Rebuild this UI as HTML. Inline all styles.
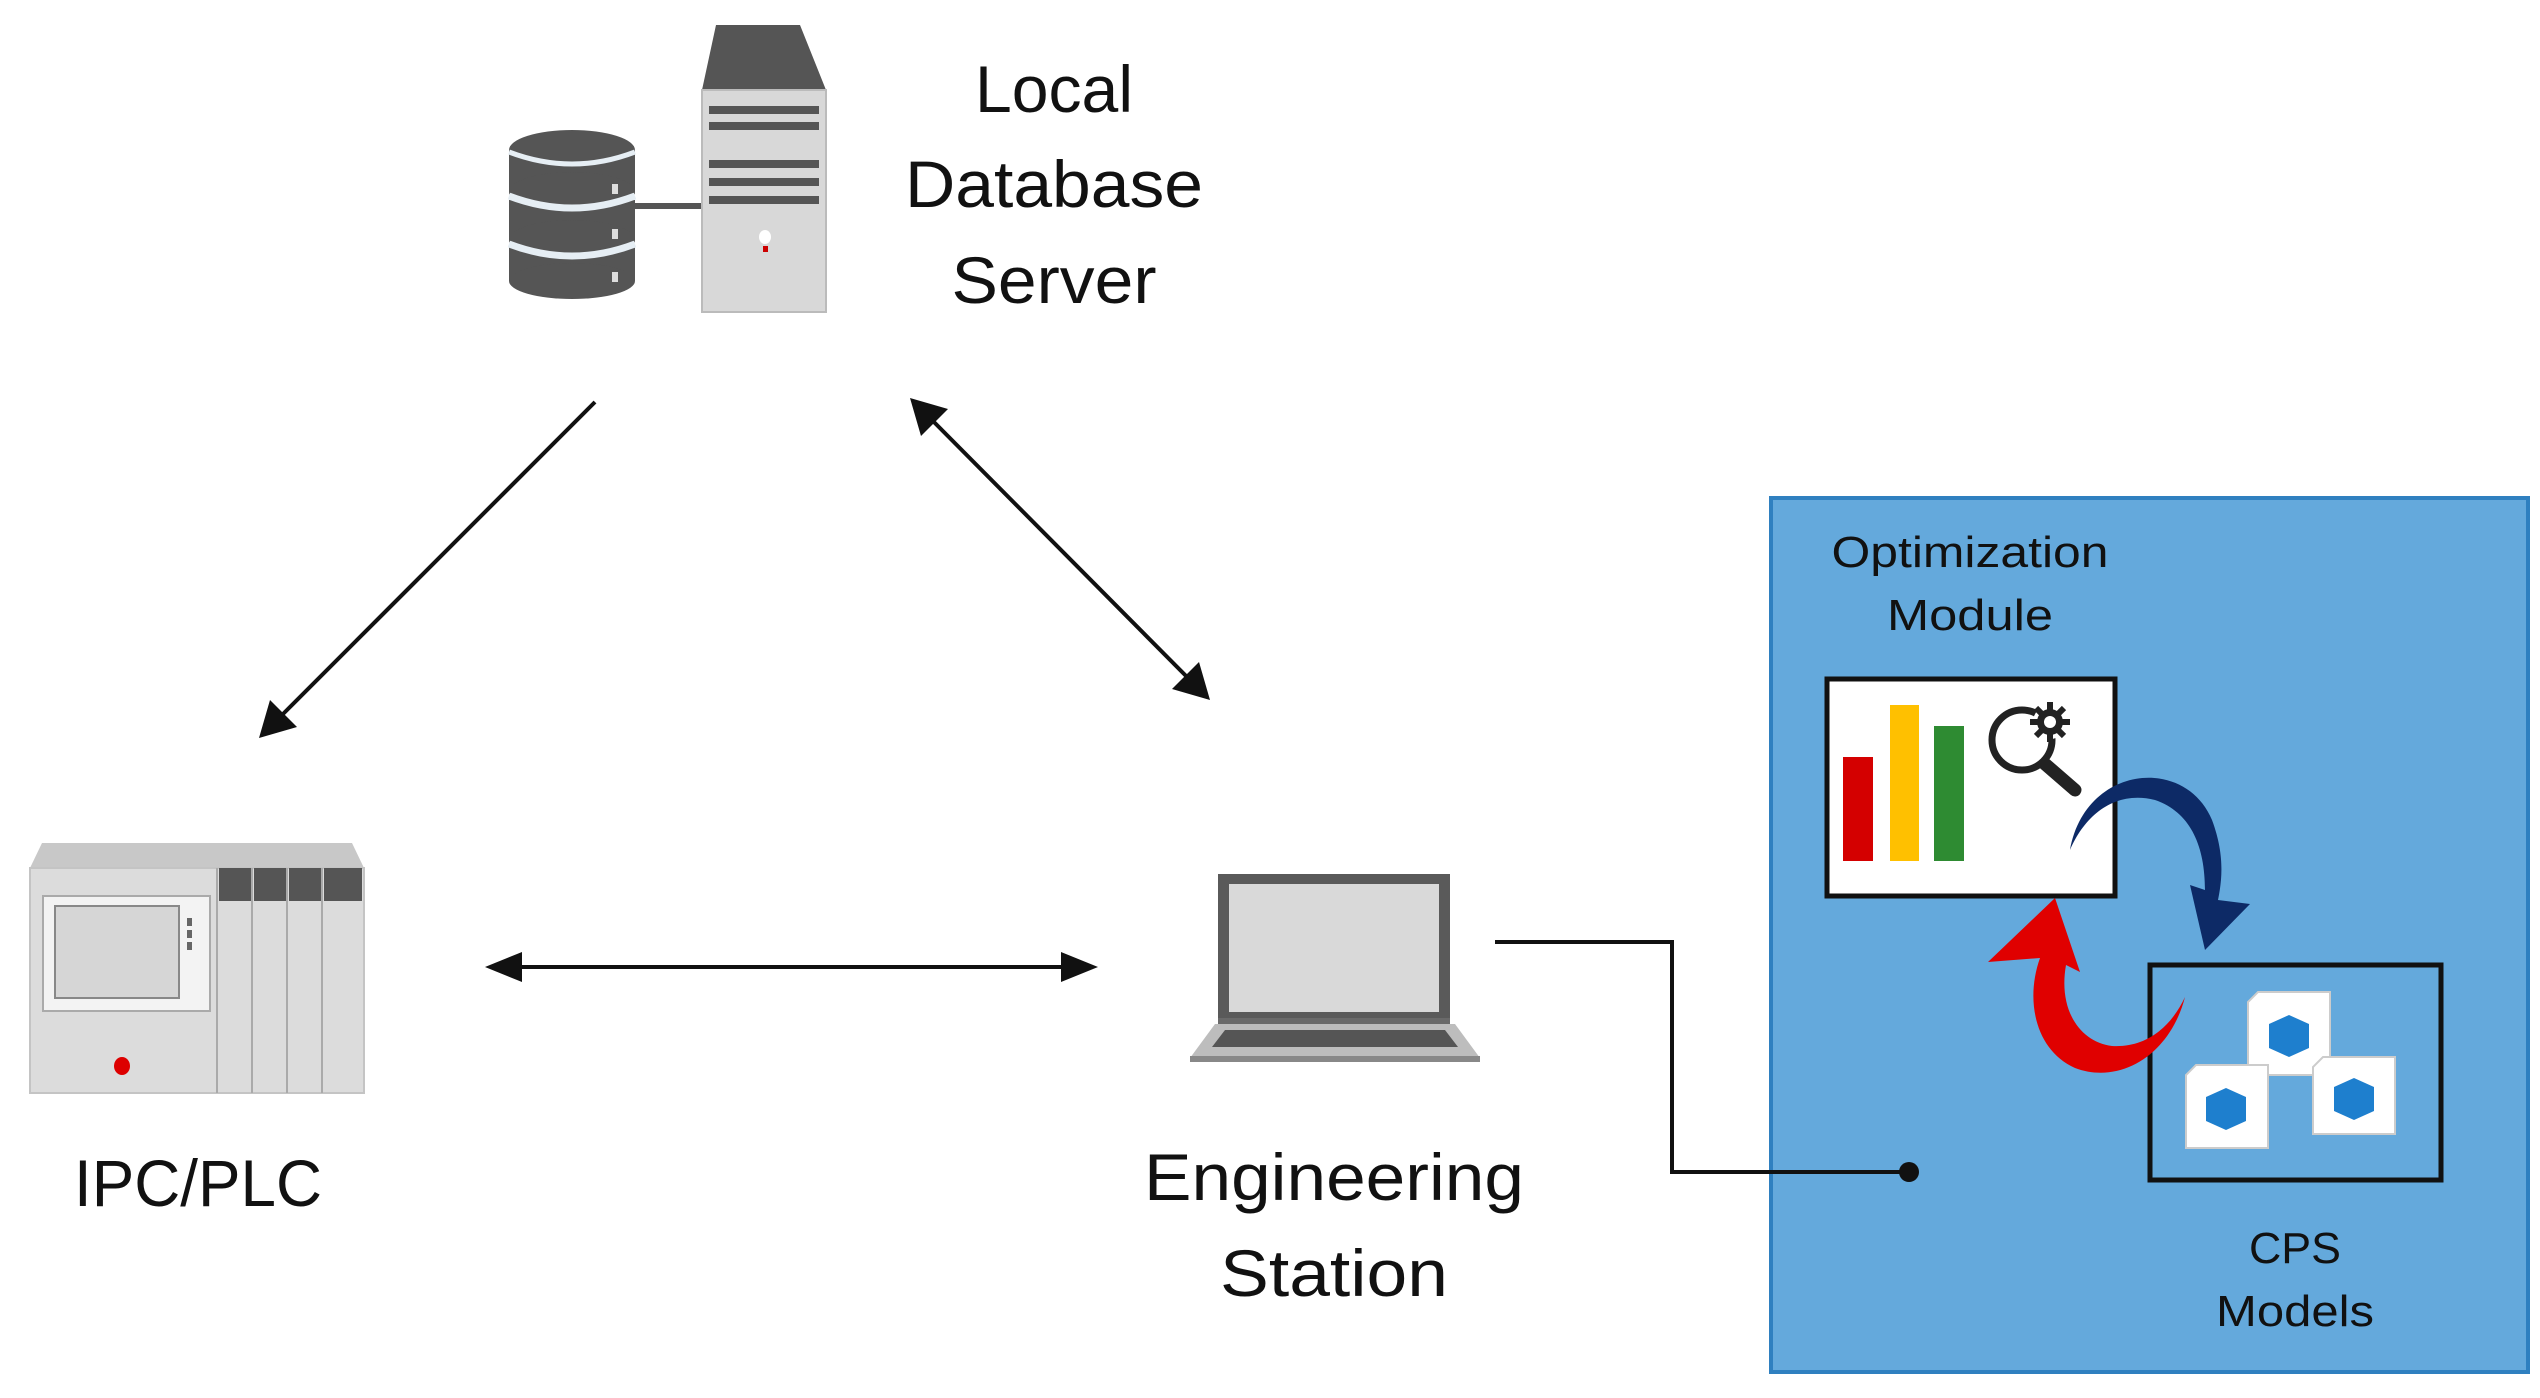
<!DOCTYPE html>
<html><head><meta charset="utf-8"><style>
html,body{margin:0;padding:0;background:#fff;}
svg{display:block;}
text{font-family:"Liberation Sans",sans-serif;fill:#111;}
</style></head><body>
<svg width="2540" height="1398" viewBox="0 0 2540 1398" xmlns="http://www.w3.org/2000/svg">
<!-- Database cylinder -->
<g fill="#555">
<ellipse cx="572" cy="150" rx="63" ry="20"/>
<rect x="509" y="150" width="126" height="42"/>
<ellipse cx="572" cy="192" rx="63" ry="20"/>
<rect x="509" y="200" width="126" height="40" />
<ellipse cx="572" cy="240" rx="63" ry="20"/>
<rect x="509" y="247" width="126" height="34"/>
<ellipse cx="572" cy="281" rx="63" ry="18"/>
</g>
<path d="M509 196 Q572 220 635 196" stroke="#e6eef4" stroke-width="7" fill="none"/>
<path d="M509 244 Q572 268 635 244" stroke="#e6eef4" stroke-width="7" fill="none"/>
<path d="M509 152 Q572 176 635 152" stroke="#e6eef4" stroke-width="5" fill="none"/>
<rect x="612" y="184" width="6" height="10" fill="#ddd"/>
<rect x="612" y="229" width="6" height="10" fill="#ddd"/>
<rect x="612" y="272" width="6" height="10" fill="#ddd"/>
<line x1="630" y1="206" x2="702" y2="206" stroke="#555" stroke-width="6"/>
<!-- Server tower -->
<polygon points="716,25 800,25 826,90 702,90" fill="#555"/>
<rect x="702" y="90" width="124" height="222" fill="#d8d8d8"/>
<rect x="702" y="90" width="124" height="222" fill="none" stroke="#bbb" stroke-width="2"/>
<g fill="#555">
<rect x="709" y="106" width="110" height="8"/>
<rect x="709" y="122" width="110" height="8"/>
<rect x="709" y="160" width="110" height="8"/>
<rect x="709" y="178" width="110" height="8"/>
<rect x="709" y="196" width="110" height="8"/>
</g>
<ellipse cx="765" cy="237" rx="6" ry="7" fill="#fff"/>
<rect x="763" y="246" width="5" height="6" fill="#c00"/>
<text x="1054" y="112" font-size="66" text-anchor="middle" textLength="158" lengthAdjust="spacingAndGlyphs">Local</text>
<text x="1054" y="207" font-size="66" text-anchor="middle" textLength="298" lengthAdjust="spacingAndGlyphs">Database</text>
<text x="1054" y="303" font-size="66" text-anchor="middle" textLength="205" lengthAdjust="spacingAndGlyphs">Server</text>
<!-- Arrows -->
<g stroke="#111" stroke-width="4" fill="#111">
<line x1="595" y1="402" x2="275" y2="722"/>
<polygon points="259,738 270,700 297,727" stroke="none"/>
<line x1="925" y1="413" x2="1195" y2="685"/>
<polygon points="910,398 948,409 921,436" stroke="none"/>
<polygon points="1210,700 1172,689 1199,662" stroke="none"/>
<line x1="505" y1="967" x2="1078" y2="967"/>
<polygon points="485,967 522,952 522,982" stroke="none"/>
<polygon points="1098,967 1061,952 1061,982" stroke="none"/>
</g>
<!-- PLC -->
<polygon points="42,843 352,843 364,868 30,868" fill="#c8c8c8"/>
<rect x="30" y="868" width="334" height="225" fill="#dcdcdc"/>
<rect x="30" y="868" width="334" height="225" fill="none" stroke="#c4c4c4" stroke-width="2"/>
<g fill="#555"><rect x="219" y="868" width="32" height="33"/><rect x="254" y="868" width="32" height="33"/><rect x="289" y="868" width="32" height="33"/><rect x="324" y="868" width="38" height="33"/></g>
<g stroke="#aaa" stroke-width="2"><line x1="217" y1="868" x2="217" y2="1093"/><line x1="252" y1="868" x2="252" y2="1093"/><line x1="287" y1="868" x2="287" y2="1093"/><line x1="322" y1="868" x2="322" y2="1093"/></g>
<rect x="43" y="896" width="167" height="115" fill="#f3f3f3" stroke="#aaa" stroke-width="2"/>
<rect x="55" y="906" width="124" height="92" fill="#d6d6d6" stroke="#888" stroke-width="2"/>
<g fill="#666"><rect x="187" y="918" width="5" height="8"/><rect x="187" y="930" width="5" height="8"/><rect x="187" y="942" width="5" height="8"/></g>
<ellipse cx="122" cy="1066" rx="8" ry="9" fill="#d00"/>
<text x="198" y="1206" font-size="66" text-anchor="middle" textLength="248" lengthAdjust="spacingAndGlyphs">IPC/PLC</text>
<!-- Laptop -->
<rect x="1218" y="874" width="232" height="150" fill="#5a5a5a"/>
<rect x="1229" y="884" width="210" height="128" fill="#d9d9d9"/>
<rect x="1218" y="1018" width="232" height="6" fill="#6a6a6a"/>
<polygon points="1215,1024 1455,1024 1480,1058 1190,1058" fill="#bdbdbd"/>
<polygon points="1225,1030 1445,1030 1458,1047 1212,1047" fill="#555"/>
<rect x="1190" y="1056" width="290" height="6" fill="#888"/>
<text x="1334" y="1200" font-size="66" text-anchor="middle" textLength="380" lengthAdjust="spacingAndGlyphs">Engineering</text>
<text x="1334" y="1296" font-size="66" text-anchor="middle" textLength="228" lengthAdjust="spacingAndGlyphs">Station</text>
<!-- Blue box -->
<rect x="1771" y="498" width="757" height="874" fill="#64a9dc" stroke="#2f80c0" stroke-width="4"/>
<polyline points="1495,942 1672,942 1672,1172 1909,1172" fill="none" stroke="#111" stroke-width="4"/>
<circle cx="1909" cy="1172" r="10" fill="#111"/>
<text x="1970" y="567" font-size="44" text-anchor="middle" textLength="277" lengthAdjust="spacingAndGlyphs">Optimization</text>
<text x="1970" y="630" font-size="44" text-anchor="middle" textLength="166" lengthAdjust="spacingAndGlyphs">Module</text>
<rect x="1827" y="679" width="288" height="217" fill="#fff" stroke="#111" stroke-width="5"/>
<rect x="1843" y="757" width="30" height="104" fill="#d40000"/>
<rect x="1890" y="705" width="29" height="156" fill="#ffc000"/>
<rect x="1934" y="726" width="30" height="135" fill="#2e8b32"/>
<circle cx="2022" cy="740" r="30" fill="none" stroke="#222" stroke-width="7"/>
<line x1="2045" y1="764" x2="2075" y2="790" stroke="#222" stroke-width="13" stroke-linecap="round"/>
<circle cx="2050" cy="722" r="17" fill="#fff"/>
<circle cx="2050" cy="722" r="13" fill="#222"/>
<g stroke="#222" stroke-width="6">
<line x1="2050" y1="702" x2="2050" y2="742"/><line x1="2030" y1="722" x2="2070" y2="722"/>
<line x1="2036" y1="708" x2="2064" y2="736"/><line x1="2064" y1="708" x2="2036" y2="736"/>
</g>
<circle cx="2050" cy="722" r="6" fill="#fff"/>
<!-- CPS box -->
<rect x="2150" y="965" width="291" height="215" fill="none" stroke="#111" stroke-width="5"/>
<g stroke="#ccc" stroke-width="2">
<polygon points="2258,992 2330,992 2330,1075 2248,1075 2248,1002" fill="#fff"/>
<polygon points="2196,1065 2268,1065 2268,1148 2186,1148 2186,1075" fill="#fff"/>
<polygon points="2323,1057 2395,1057 2395,1134 2313,1134 2313,1067" fill="#fff"/>
</g>
<g fill="#1e7fce">
<polygon points="2289,1015 2309,1024 2309,1048 2289,1057 2269,1048 2269,1024"/>
<polygon points="2226,1088 2246,1097 2246,1121 2226,1130 2206,1121 2206,1097"/>
<polygon points="2354,1078 2374,1087 2374,1111 2354,1120 2334,1111 2334,1087"/>
</g>
<text x="2295" y="1263" font-size="44" text-anchor="middle" textLength="92" lengthAdjust="spacingAndGlyphs">CPS</text>
<text x="2295" y="1326" font-size="44" text-anchor="middle" textLength="158" lengthAdjust="spacingAndGlyphs">Models</text>
<!-- Blue curved arrow -->
<path d="M2070 850 C2085 765 2185 755 2212 820 C2225 855 2222 880 2218 900 L2250 904 L2205 950 L2190 885 L2205 890 C2205 845 2190 812 2155 800 C2115 790 2085 815 2070 850 Z" fill="#0d2a66"/>
<!-- Red curved arrow -->
<path d="M2185 997 C2170 1055 2120 1085 2075 1068 C2035 1050 2025 1000 2040 958 L1988 962 L2055 898 L2080 972 L2066 965 C2058 1010 2080 1042 2112 1046 C2148 1048 2172 1025 2185 997 Z" fill="#e00000"/>
</svg>
</body></html>
